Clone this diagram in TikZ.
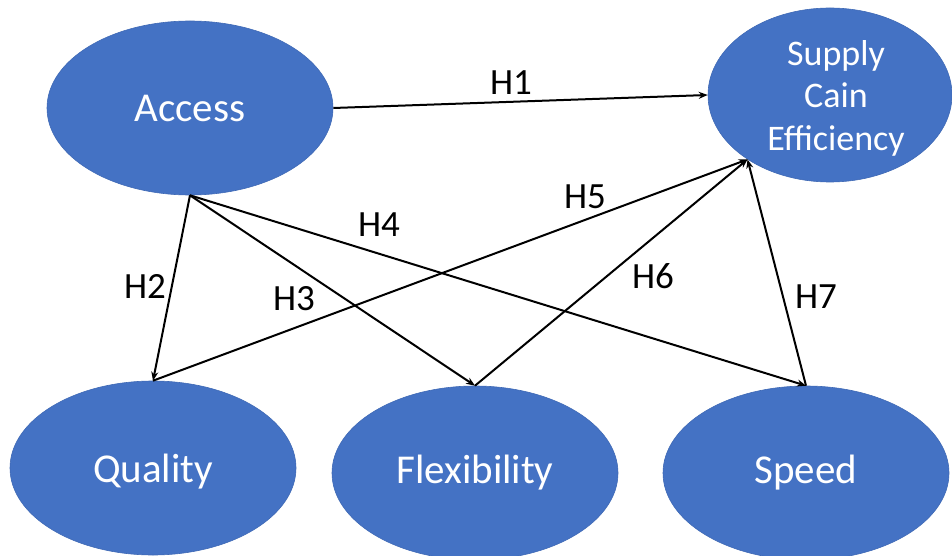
\documentclass[tikz,border=0pt]{standalone}
\usepackage{fontspec}
\setmainfont{Carlito}
\usetikzlibrary{shapes.geometric,arrows.meta}
\definecolor{nodeblue}{HTML}{4472C4}
\definecolor{nodeedge}{HTML}{3F69B5}
\begin{document}
\begin{tikzpicture}[x=1pt,y=-1pt,
  var/.style={ellipse,fill=nodeblue,draw=nodeedge,line width=0.6pt,minimum width=286pt,minimum height=174pt,inner sep=0pt,text=white,font=\fontsize{41}{46}\selectfont,align=center},
  vartext/.style={text=white,font=\fontsize{36}{42.5}\selectfont,align=center,inner sep=0pt},
  hyp/.style={line width=2pt,-{Stealth[length=9pt,width=7pt]}},
  lbl/.style={font=\fontsize{37}{42}\selectfont,text=black,inner sep=0pt}]
\useasboundingbox (0,0) rectangle (952,556);
\clip (0,0) rectangle (952,556);
\node[var] (access) at (190,108) {Access};
\node[var,minimum width=244pt] (supply) at (830,95) {};
\node[vartext] (supplytext) at (836,98) {Supply\\Cain\\Efficiency};
\node[var,text depth=0pt] (quality) at (153,468) {Quality};
\node[var] (flex) at (475,473) {Flexibility};
\node[var] (speed) at (806,473) {Speed};
\draw[hyp] (access.east) -- (supply.west);
\draw[hyp] (access.south) -- (quality.north);
\draw[hyp] (access.south) -- (flex.north);
\draw[hyp] (access.south) -- (speed.north);
\draw[hyp] (quality.north) -- (supply.218);
\draw[hyp] (flex.north) -- (supply.218);
\draw[hyp] (speed.north) -- (supply.218);
\node[lbl] (h1) at (511,83) {H1};
\node[lbl] (h2) at (145,286) {H2};
\node[lbl] (h3) at (294,299) {H3};
\node[lbl] (h4) at (379,225) {H4};
\node[lbl] (h5) at (585,197) {H5};
\node[lbl] (h6) at (653,276) {H6};
\node[lbl] (h7) at (816,297) {H7};
\end{tikzpicture}
\end{document}
